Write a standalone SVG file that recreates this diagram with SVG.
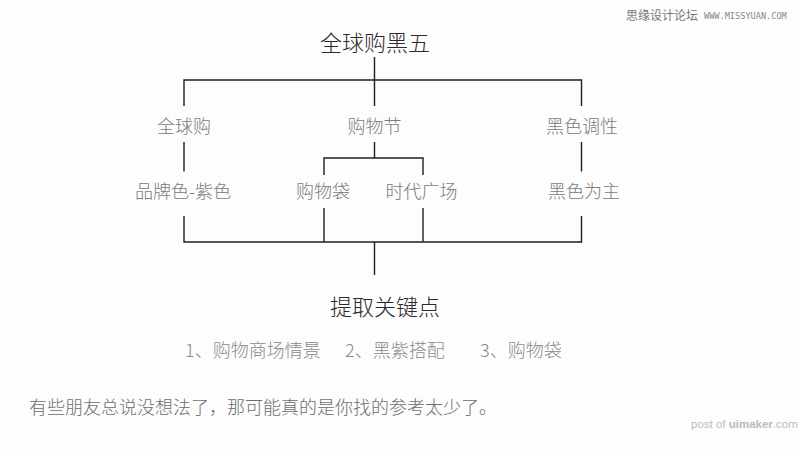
<svg xmlns="http://www.w3.org/2000/svg" width="800" height="449" viewBox="0 0 800 449">
<style>
text{font-family:"Noto Sans CJK SC","Noto Sans",sans-serif;}
.t1{font-size:22px;fill:#2a2a2a;text-anchor:middle;font-weight:300;}
.t2{font-size:18px;fill:#7a7a7a;text-anchor:middle;font-weight:300;}
.t3{font-size:18px;fill:#8a8a8a;font-weight:300;}
.t4{font-size:18px;fill:#6e6e6e;font-weight:300;}
.c{stroke:#1e1e1e;stroke-width:1.4;fill:none;}
</style>
<rect width="800" height="449" fill="#fdfdfd"/>
<g id="watermark">
<text x="626" y="20" style="font-size:12px;fill:#777">思缘设计论坛</text>
<text x="704" y="19" style="font-family:'DejaVu Sans Mono',monospace;font-size:8.6px;fill:#888">WWW.MISSYUAN.COM</text>
</g>
<g id="connectors">
<path class="c" d="M374.5 57V106M184 106V80H581.5V106"/>
<path class="c" d="M184 142V171.5M374.5 142V158M324 175V158H423V175M581.5 142V171.5"/>
<path class="c" d="M184 216V242H581.5V216M324 208V242M423 208V242M374.5 242V275"/>
</g>
<g id="n-root"><text class="t1" x="375" y="51">全球购黑五</text></g>
<g id="n-quanqiugou"><text class="t2" x="184" y="133">全球购</text></g>
<g id="n-gouwujie"><text class="t2" x="374.5" y="133">购物节</text></g>
<g id="n-heise"><text class="t2" x="582" y="133">黑色调性</text></g>
<g id="n-pinpai"><text class="t2" x="183" y="198">品牌色-紫色</text></g>
<g id="n-gouwudai"><text class="t2" x="323" y="198">购物袋</text></g>
<g id="n-shidai"><text class="t2" x="421.5" y="198">时代广场</text></g>
<g id="n-heisewei"><text class="t2" x="584" y="198">黑色为主</text></g>
<g id="n-tiqu"><text class="t1" x="385" y="315">提取关键点</text></g>
<g id="list">
<text class="t3" x="185" y="357">1、购物商场情景</text>
<text class="t3" x="345" y="357">2、黑紫搭配</text>
<text class="t3" x="480" y="357">3、购物袋</text>
</g>
<text class="t4" x="29" y="414">有些朋友总说没想法了，那可能真的是你找的参考太少了。</text>
<text x="691" y="428" style="font-family:'Liberation Sans',sans-serif;font-size:11.5px;fill:#bbb">post of <tspan font-weight="bold">uimaker</tspan>.com</text>
</svg>
